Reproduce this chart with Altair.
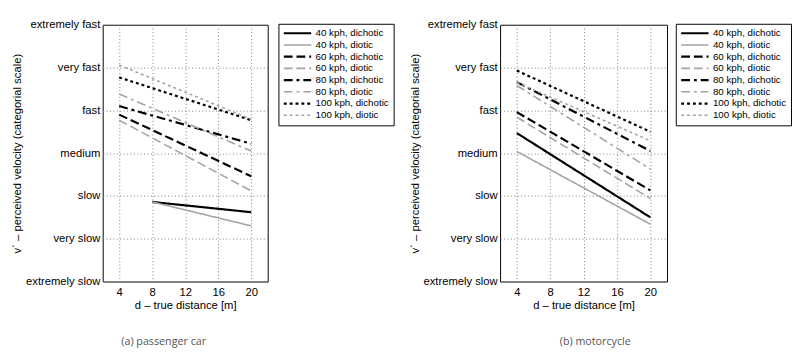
import altair as alt
import pandas as pd

levels = ["extremely slow", "very slow", "slow", "medium", "fast", "very fast", "extremely fast"]
level_values = [1, 2, 3, 4, 5, 6, 7]
x_ticks = [4, 8, 12, 16, 20]

series = ["40 kph, dichotic", "40 kph, diotic", "60 kph, dichotic", "60 kph, diotic",
          "80 kph, dichotic", "80 kph, diotic", "100 kph, dichotic", "100 kph, diotic"]

# (a) passenger car
car_d_start = [8, 8, 4, 4, 4, 4, 4, 4]
car_d_end = [20, 20, 20, 20, 20, 20, 20, 20]
car_v_start = [2.86, 2.86, 4.90, 4.77, 5.10, 5.38, 5.77, 6.06]
car_v_end = [2.62, 2.30, 3.46, 3.12, 4.22, 4.05, 4.77, 4.79]

# (b) motorcycle
moto_d_start = [4, 4, 4, 4, 4, 4, 4, 4]
moto_d_end = [20, 20, 20, 20, 20, 20, 20, 20]
moto_v_start = [4.47, 4.04, 4.96, 4.84, 5.66, 5.58, 5.93, 5.65]
moto_v_end = [2.50, 2.34, 3.13, 2.94, 4.05, 3.63, 4.50, 4.29]

colors = ["#000000", "#a3a3a3"] * 4
dashes = [[1, 0], [1, 0], [9, 4], [9, 4], [9, 4, 3, 4], [9, 4, 3, 4], [3, 3], [3, 3]]
widths = [2.2, 1.6] * 4

FONT = "Liberation Sans"


def make_frame(ds, de, vs, ve):
    rows = []
    for i, s in enumerate(series):
        rows.append({"series": s, "d": ds[i], "v": vs[i]})
        rows.append({"series": s, "d": de[i], "v": ve[i]})
    return pd.DataFrame(rows)


label_expr = "[''," + ",".join("'" + l + "'" for l in levels) + "][datum.value]"


def panel(df, caption, width, dx, legend_x):
    leg = alt.Legend(
        title=None, orient="none", legendX=legend_x, legendY=-1,
        symbolType="stroke", symbolSize=784, clipHeight=11.4,
        labelFontSize=10, labelFont=FONT, labelColor="black", labelOffset=3,
        padding=4, strokeColor="black", fillColor="white", rowPadding=0,
        symbolStrokeWidth=2,
    )
    return alt.Chart(df).mark_line(clip=True).encode(
        x=alt.X("d:Q", scale=alt.Scale(domain=[2, 22], nice=False, zero=False),
                axis=alt.Axis(values=x_ticks, title="d – true distance [m]", format="d")),
        y=alt.Y("v:Q", scale=alt.Scale(domain=[1, 7], nice=False, zero=False),
                axis=alt.Axis(values=level_values, labelExpr=label_expr,
                              title="v´ – perceived velocity (categorial scale)")),
        color=alt.Color("series:N", scale=alt.Scale(domain=series, range=colors), legend=leg),
        strokeDash=alt.StrokeDash("series:N", scale=alt.Scale(domain=series, range=dashes), legend=leg),
        strokeWidth=alt.StrokeWidth("series:N", scale=alt.Scale(type="ordinal", domain=series, range=widths), legend=leg),
    ).properties(
        width=width, height=263,
        title=alt.TitleParams(caption, orient="bottom", anchor="middle", frame="group",
                              fontSize=11, font="Open Sans", color="#555555",
                              fontWeight="normal", offset=26, dx=dx),
    )


left = panel(make_frame(car_d_start, car_d_end, car_v_start, car_v_end), "(a) passenger car", 169, -22, 180)
right = panel(make_frame(moto_d_start, moto_d_end, moto_v_start, moto_v_end), "(b) motorcycle", 171, 12, 180)

chart = alt.hconcat(left, right, spacing=14).resolve_legend(
    color="independent", strokeDash="independent", strokeWidth="independent"
).resolve_scale(
    color="independent", strokeDash="independent", strokeWidth="independent"
).properties(
    padding={"left": 3, "top": 6, "right": 0, "bottom": 0}
).configure_view(
    stroke="black", strokeWidth=1
).configure_axis(
    grid=True, gridColor="#7a7a7a", gridDash=[1, 2.5], gridWidth=1, gridOpacity=1,
    domain=False, ticks=False, labelFont=FONT, labelFontSize=11.5, labelColor="black",
    titleFont=FONT, titleFontSize=11.5, titleColor="black", titleFontWeight="normal",
    labelPadding=3,
).configure_axisX(
    labelPadding=5, titlePadding=2
).configure_axisY(
    titlePadding=3
)

chart.save("out.html", embed_options={"renderer": "svg", "actions": False})
